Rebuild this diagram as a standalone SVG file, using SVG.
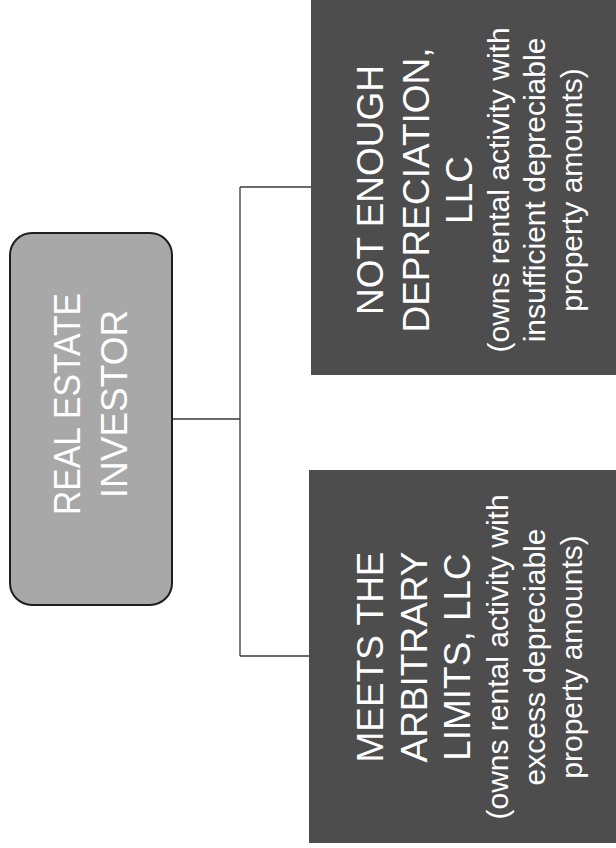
<svg xmlns="http://www.w3.org/2000/svg" width="616" height="848" viewBox="0 0 616 848">
<style>
.conn{fill:none;stroke:#3a3a3a;stroke-width:1.3}
.root{fill:#a8a8a8;stroke:#1e1e1e;stroke-width:2}
.box{fill:#4d4d4d}
.t{font-family:"Liberation Sans",Arial,sans-serif;fill:#ffffff;text-anchor:middle}
.h{font-size:37px}
.s{font-size:30px}
</style>
<g id="connectors">
<path class="conn" d="M172 419 H240 M240 187 V656 M240 187 H311 M240 656 H309"/>
</g>
<g id="root">
<rect class="root" x="10" y="233" width="162" height="372" rx="22"/>
<text class="t h" transform="translate(80 404) rotate(-90)" textLength="222" lengthAdjust="spacingAndGlyphs">REAL ESTATE</text>
<text class="t h" transform="translate(127 404) rotate(-90)">INVESTOR</text>
</g>
<g id="not-enough">
<rect class="box" x="311" y="0" width="305" height="375"/>
<text class="t h" transform="translate(383 190) rotate(-90)">NOT ENOUGH</text>
<text class="t h" transform="translate(429 190) rotate(-90)">DEPRECIATION,</text>
<text class="t h" transform="translate(472 190) rotate(-90)">LLC</text>
<text class="t s" transform="translate(509 190) rotate(-90)">(owns rental activity with</text>
<text class="t s" transform="translate(545 190) rotate(-90)">insufficient depreciable</text>
<text class="t s" transform="translate(582 190) rotate(-90)">property amounts)</text>
</g>
<g id="meets-limits">
<rect class="box" x="309" y="470" width="307" height="373"/>
<text class="t h" transform="translate(383 657) rotate(-90)">MEETS THE</text>
<text class="t h" transform="translate(427 657) rotate(-90)">ARBITRARY</text>
<text class="t h" transform="translate(470 657) rotate(-90)">LIMITS, LLC</text>
<text class="t s" transform="translate(508 657) rotate(-90)">(owns rental activity with</text>
<text class="t s" transform="translate(545 657) rotate(-90)">excess depreciable</text>
<text class="t s" transform="translate(582 657) rotate(-90)">property amounts)</text>
</g>
</svg>
